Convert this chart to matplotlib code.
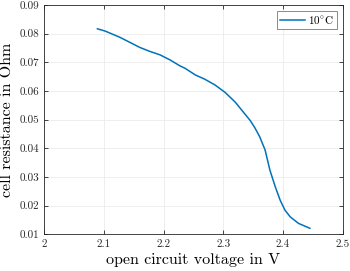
import matplotlib
matplotlib.use("Agg")
import matplotlib.pyplot as plt

# open circuit voltage (V) and cell resistance (Ohm)
ocv = [2.089, 2.102, 2.127, 2.144, 2.160, 2.177, 2.194, 2.211, 2.227, 2.236,
       2.253, 2.269, 2.286, 2.303, 2.320, 2.336, 2.345, 2.353, 2.361, 2.370,
       2.378, 2.387, 2.395, 2.403, 2.412, 2.426, 2.445]
resistance = [0.0817, 0.0809, 0.0787, 0.0769, 0.0752, 0.0738, 0.0726, 0.0708,
              0.0688, 0.0679, 0.0656, 0.0641, 0.0621, 0.0595, 0.0561, 0.0520,
              0.0497, 0.0471, 0.0440, 0.0394, 0.0324, 0.0266, 0.0220, 0.0185,
              0.0161, 0.0138, 0.0121]
label = r'10$^{\circ}$C'

plt.rcParams['font.family'] = 'serif'
plt.rcParams['font.serif'] = ['cmr10', 'DejaVu Serif']
plt.rcParams['mathtext.fontset'] = 'cm'
plt.rcParams['axes.formatter.use_mathtext'] = True

fig = plt.figure(figsize=(3.5, 2.71), dpi=100)
ax = fig.add_axes([44.3 / 350, 1 - 234.3 / 271, (342.7 - 44.3) / 350, (234.3 - 5) / 271])

ax.plot(ocv, resistance, color='#0072BD', linewidth=1.1, label=label)

ax.set_xlim(2, 2.5)
ax.set_ylim(0.01, 0.09)
ax.set_xticks([2, 2.1, 2.2, 2.3, 2.4, 2.5])
ax.set_xticklabels(['2', '2.1', '2.2', '2.3', '2.4', '2.5'])
ax.set_yticks([0.01, 0.02, 0.03, 0.04, 0.05, 0.06, 0.07, 0.08, 0.09])
ax.set_yticklabels(['0.01', '0.02', '0.03', '0.04', '0.05', '0.06', '0.07', '0.08', '0.09'])
ax.tick_params(direction='in', length=3, width=0.6, colors='#262626', labelsize=8,
               top=True, right=True)
ax.grid(True, color='#ebebeb', linewidth=0.6)
ax.set_axisbelow(True)
for s in ax.spines.values():
    s.set_color('#262626')
    s.set_linewidth(0.6)

ax.set_xlabel('open circuit voltage in V', fontsize=11.5, labelpad=3)
ax.set_ylabel('cell resistance in Ohm', fontsize=11.5, labelpad=4)

leg = ax.legend(loc='upper right', fontsize=8, fancybox=False, framealpha=1,
                edgecolor='#777777', handlelength=2.2, borderpad=0.3,
                handletextpad=0.3, borderaxespad=0.5)
leg.get_frame().set_linewidth(0.6)

fig.savefig('out.png', dpi=100)
